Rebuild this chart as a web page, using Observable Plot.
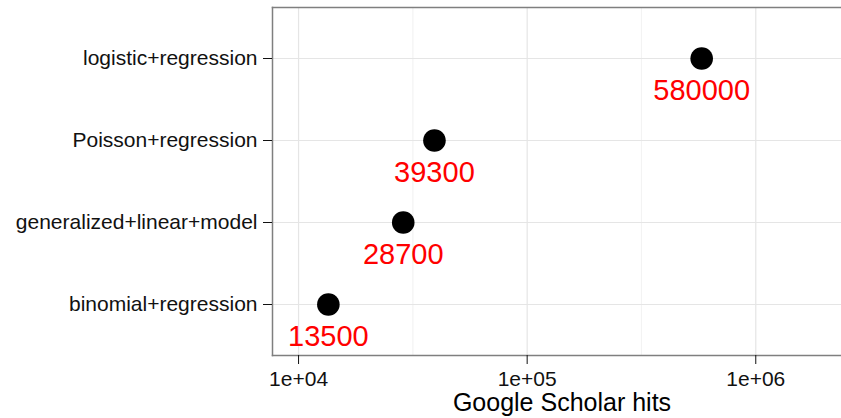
<!DOCTYPE html>
<html>
<head>
<meta charset="utf-8">
<script src="https://cdn.jsdelivr.net/npm/d3@7"></script>
<script src="https://cdn.jsdelivr.net/npm/@observablehq/plot@0.6"></script>
<style>
  body { margin: 0; background: #fff; }
</style>
</head>
<body>
<div id="chart"></div>
<script>
// Search phrases, top to bottom, and their Google Scholar hit counts
const queries = ["logistic+regression", "Poisson+regression", "generalized+linear+model", "binomial+regression"];
const hits = [580000, 39300, 28700, 13500];

// Log-axis breaks (major labelled, minor grid only)
const xTicks = [1e4, 1e5, 1e6];
const xMinor = [31623, 316228];
const xTitle = "Google Scholar hits";

const data = queries.map((q, i) => ({query: q, hits: hits[i]}));
const sci = d => d.toExponential().replace(/e([+-])(\d)$/, "e$10$2");

const font = "'Liberation Sans', Arial, Helvetica, sans-serif";
const border = "#7f7f7f";

const chart = Plot.plot({
  width: 841,
  height: 418,
  marginLeft: 272,
  marginRight: 0,
  marginTop: 7,
  marginBottom: 63,
  style: {fontFamily: font, background: "#fff", color: "#000"},
  x: {type: "log", domain: [10 ** 3.886, 10 ** 6.375]},
  y: {type: "point", domain: queries, padding: 0.6},
  marks: [
    Plot.gridX(xMinor, {stroke: "#f3f3f3", strokeOpacity: 1, strokeWidth: 1.2}),
    Plot.gridX(xTicks, {stroke: "#e5e5e5", strokeOpacity: 1, strokeWidth: 1.2}),
    Plot.gridY(queries, {stroke: "#e5e5e5", strokeOpacity: 1, strokeWidth: 1.2}),
    Plot.frame({anchor: "top", stroke: border, strokeWidth: 1.5}),
    Plot.frame({anchor: "left", stroke: border, strokeWidth: 1.5}),
    Plot.frame({anchor: "bottom", stroke: border, strokeWidth: 1.5}),
    Plot.axisX(xTicks, {tickSize: 9, tickPadding: 7, fontSize: 21, tickFormat: sci, label: null, color: "#111"}),
    Plot.axisY({tickSize: 9, tickPadding: 6, fontSize: 21, label: null, color: "#111"}),
    Plot.dot(data, {x: "hits", y: "query", r: 11.3, fill: "#000", stroke: null}),
    Plot.text(data, {x: "hits", y: "query", text: d => String(d.hits), fill: "#ff0000", fontSize: 29, dy: 32}),
    Plot.text([xTitle], {frameAnchor: "bottom", dx: 5, dy: 55, fontSize: 25, fill: "#000"})
  ]
});

document.getElementById("chart").appendChild(chart);
</script>
</body>
</html>
